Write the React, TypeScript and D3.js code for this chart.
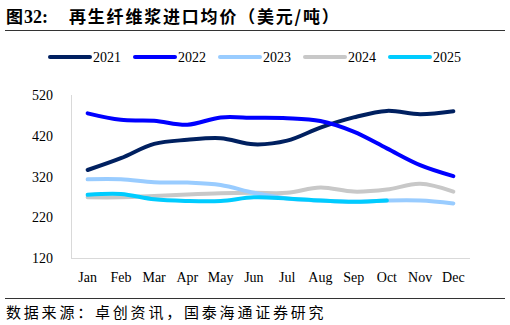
import React from "react";
import * as d3 from "d3";

const months = ["Jan", "Feb", "Mar", "Apr", "May", "Jun", "Jul", "Aug", "Sep", "Oct", "Nov", "Dec"];
const yTicks = [120, 220, 320, 420, 520];

const s2021 = [336, 365, 400, 410, 414, 399, 408, 440, 465, 481, 473, 480];
const s2022 = [475, 459, 457, 447, 465, 464, 463, 456, 430, 389, 348, 321];
const s2023 = [313, 313, 306, 305, 299, 280, 266, 261, 258, 261, 261, 254];
const s2024 = [269, 269, 272, 276, 279, 280, 280, 293, 283, 288, 302, 283];
const s2025 = [275, 277, 264, 260, 260, 269, 266, 261, 258, 261];

const seriesNames = ["2021", "2022", "2023", "2024", "2025"];
const seriesColors = ["#002060", "#0000FF", "#99CCFF", "#C8C8C8", "#00CCFF"];
const seriesData = [s2021, s2022, s2023, s2024, s2025];
const drawOrder = [3, 2, 4, 0, 1];

const W = 510;
const H = 325;
const left = 71;
const right = 470;
const top = 95;
const bottom = 258;

export default function App() {
  const x = d3.scaleBand<string>().domain(months).range([left, right]);
  const y = d3.scaleLinear().domain([120, 520]).range([bottom, top]);
  const line = d3
    .line<number>()
    .x((_, i) => (x(months[i]) as number) + x.bandwidth() / 2)
    .y((d) => y(d))
    .curve(d3.curveCatmullRom.alpha(0.5));

  const serif = "'Liberation Serif', 'Times New Roman', serif";
  const cjk = "'Noto Sans CJK SC', sans-serif";

  const legendX = [50, 135, 220, 305, 390];

  return (
    <svg width={W} height={H} style={{ position: "absolute", left: 0, top: 0, background: "#fff" }}>
      <rect x={0} y={0} width={W} height={H} fill="#fff" />
      <text x={6} y={23} fontSize={17} fontWeight="bold" fill="#000" fontFamily={cjk}>
        图
      </text>
      <text x={24} y={23} fontSize={18} fontWeight="bold" fill="#000" fontFamily={serif}>
        32:
      </text>
      <text x={69} y={23} fontSize={17} fontWeight="bold" fill="#000" fontFamily={cjk} letterSpacing={1.8}>
        再生纤维浆进口均价（美元/吨）
      </text>
      <line x1={5} x2={505} y1={30.5} y2={30.5} stroke="#333" strokeWidth={1} />

      {seriesNames.map((n, i) => (
        <g key={n}>
          <line
            x1={legendX[i]}
            x2={legendX[i] + 40}
            y1={57}
            y2={57}
            stroke={seriesColors[i]}
            strokeWidth={4}
            strokeLinecap="round"
          />
          <text x={legendX[i] + 43} y={62} fontFamily={serif} fontSize={14} fill="#000">
            {n}
          </text>
        </g>
      ))}

      <line x1={left + 0.5} x2={left + 0.5} y1={top} y2={bottom} stroke="#D9D9D9" />
      <line x1={left} x2={right} y1={bottom + 0.5} y2={bottom + 0.5} stroke="#D9D9D9" />

      {yTicks.map((t) => (
        <text key={t} x={53} y={y(t) + 5} textAnchor="end" fontFamily={serif} fontSize={14} fill="#000">
          {t}
        </text>
      ))}
      {months.map((m) => (
        <text
          key={m}
          x={(x(m) as number) + x.bandwidth() / 2}
          y={282}
          textAnchor="middle"
          fontFamily={serif}
          fontSize={14}
          fill="#000"
        >
          {m}
        </text>
      ))}

      {drawOrder.map((i) => (
        <path
          key={seriesNames[i]}
          d={line(seriesData[i]) || ""}
          fill="none"
          stroke={seriesColors[i]}
          strokeWidth={4}
          strokeLinecap="round"
          strokeLinejoin="round"
        />
      ))}

      <line x1={5} x2={505} y1={298.5} y2={298.5} stroke="#333" strokeWidth={1} />
      <text x={6} y={318} fontFamily={cjk} fontSize={15} fill="#000" letterSpacing={2.8}>
        数据来源：卓创资讯，国泰海通证券研究
      </text>
    </svg>
  );
}
